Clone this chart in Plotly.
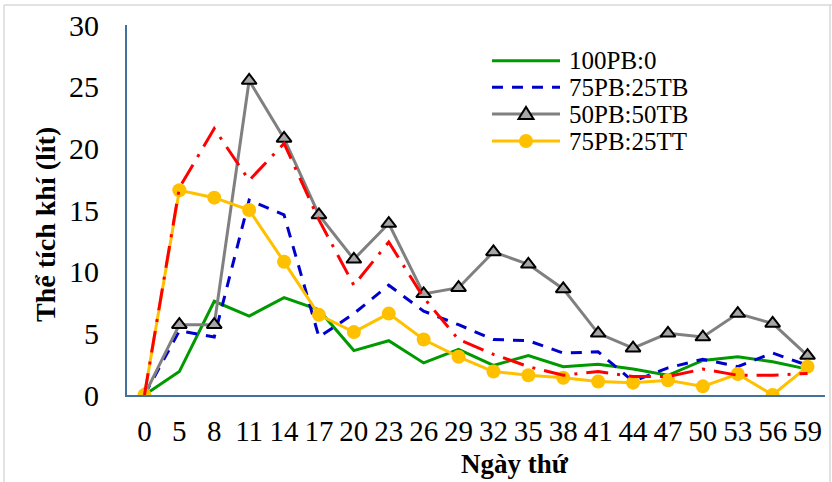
import plotly.graph_objects as go

# Sampling days (x categories)
days = ["0", "5", "8", "11", "14", "17", "20", "23", "26", "29",
        "32", "35", "38", "41", "44", "47", "50", "53", "56", "59"]

# Daily gas volume (litres) per mix
pb100 = [0, 1.9, 7.6, 6.4, 7.9, 6.9, 3.6, 4.4, 2.6, 3.7,
         2.4, 3.2, 2.3, 2.5, 2.1, 1.6, 2.8, 3.1, 2.7, 2.1]
pb75_tb25 = [0, 5.2, 4.7, 15.8, 14.6, 4.7, 6.6, 8.9, 6.8, 5.7,
             4.5, 4.4, 3.4, 3.5, 1.1, 2.2, 2.9, 2.3, 3.4, 2.4]
pb50_tb50 = [0, 5.7, 5.7, 25.5, 20.8, 14.6, 11.0, 13.9, 8.2, 8.7,
             11.6, 10.6, 8.6, 5.0, 3.8, 5.0, 4.7, 6.6, 5.8, 3.2]
pb75_tt25 = [0, 16.6, 16.0, 15.0, 10.8, 6.5, 5.1, 6.6, 4.5, 3.1,
             1.9, 1.6, 1.4, 1.1, 1.0, 1.2, 0.7, 1.7, 0.0, 2.3]
extra_series = [0, 16.8, 21.6, 17.4, 20.4, 14.2, 8.9, 12.4, 7.9, 4.5,
                3.3, 2.3, 1.6, 1.9, 1.5, 1.5, 2.1, 1.6, 1.6, 1.75]

legend_labels = ["100PB:0", "75PB:25TB", "50PB:50TB", "75PB:25TT"]
y_ticks = [0, 5, 10, 15, 20, 25, 30]

GREEN = "#009A00"
BLUE = "#0000CC"
GRAY = "#808080"
YELLOW = "#FFC000"
RED = "#FF0000"
AXIS = "#41719C"
SERIF = "Liberation Serif, Times New Roman, serif"

# Plot-area geometry in pixels (used for the hand-made legend)
W, H = 832, 482
L, R, T, B = 127, 825, 25, 395


def px(x):
    return (x - L) / (R - L)


def py(y):
    return (B - y) / (B - T)


fig = go.Figure()

fig.add_trace(go.Scatter(x=days, y=pb100, mode="lines", name=legend_labels[0],
                         line=dict(color=GREEN, width=3)))
fig.add_trace(go.Scatter(x=days, y=pb75_tb25, mode="lines", name=legend_labels[1],
                         line=dict(color=BLUE, width=3, dash="11px,9px")))
fig.add_trace(go.Scatter(x=days, y=pb50_tb50, mode="lines+markers", name=legend_labels[2],
                         line=dict(color=GRAY, width=3),
                         marker=dict(symbol="triangle-up", size=13, color="#A6A6A6",
                                     line=dict(color="black", width=2))))
fig.add_trace(go.Scatter(x=days, y=pb75_tt25, mode="lines+markers", name=legend_labels[3],
                         line=dict(color=YELLOW, width=3),
                         marker=dict(symbol="circle", size=14, color=YELLOW)))
fig.add_trace(go.Scatter(x=days, y=extra_series, mode="lines", showlegend=False,
                         line=dict(color=RED, width=3, dash="22px,9px,3px,9px")))

shapes = []
annotations = []

# Legend keys drawn as shapes + text
rows_y = [60.7, 87.3, 114, 141]
kx0, kx1, kxm = 492, 560, 526
tx = 567
key_styles = [
    dict(color=GREEN, width=3),
    dict(color=BLUE, width=3, dash="11px,9px"),
    dict(color=GRAY, width=3),
    dict(color=YELLOW, width=3),
]
for yy, ln, lab in zip(rows_y, key_styles, legend_labels):
    shapes.append(dict(type="line", xref="paper", yref="paper",
                       x0=px(kx0), x1=px(kx1), y0=py(yy), y1=py(yy), line=ln))
    annotations.append(dict(text=lab, xref="paper", yref="paper", x=px(tx), y=py(yy),
                            xanchor="left", yanchor="middle", showarrow=False,
                            font=dict(family=SERIF, size=25, color="black")))
# triangle key marker
ty = rows_y[2]
shapes.append(dict(type="path", xref="paper", yref="paper",
                   path="M {},{} L {},{} L {},{} Z".format(
                       px(kxm - 7.5), py(ty + 5), px(kxm + 7.5), py(ty + 5),
                       px(kxm), py(ty - 7)),
                   fillcolor="#A6A6A6", line=dict(color="black", width=2)))
# circle key marker
cy = rows_y[3]
shapes.append(dict(type="circle", xref="paper", yref="paper",
                   x0=px(kxm - 7), x1=px(kxm + 7), y0=py(cy + 7), y1=py(cy - 7),
                   fillcolor=YELLOW, line=dict(color=YELLOW, width=0)))

# light page frame
frame = dict(color="#D9D9D9", width=1.5)
shapes.append(dict(type="line", xref="paper", yref="paper",
                   x0=px(4), x1=px(4), y0=py(5), y1=py(490), line=frame))
shapes.append(dict(type="line", xref="paper", yref="paper",
                   x0=px(4), x1=px(835), y0=py(5), y1=py(5), line=frame))
shapes.append(dict(type="line", xref="paper", yref="paper",
                   x0=px(830), x1=px(830), y0=py(5), y1=py(490), line=frame))

# axis titles
annotations.append(dict(text="<b>Thể tích khí (lít)</b>", xref="paper", yref="paper",
                        x=px(45), y=py(225), textangle=-90, showarrow=False,
                        xanchor="center", yanchor="middle",
                        font=dict(family=SERIF, size=28, color="black")))
annotations.append(dict(text="<b>Ngày thứ</b>", xref="paper", yref="paper",
                        x=px(515), y=py(464), showarrow=False,
                        xanchor="center", yanchor="middle",
                        font=dict(family=SERIF, size=27, color="black")))

fig.update_layout(
    width=W, height=H,
    margin=dict(l=L, r=W - R, t=T, b=H - B, pad=0),
    paper_bgcolor="white", plot_bgcolor="white",
    showlegend=False,
    shapes=shapes, annotations=annotations,
    font=dict(family=SERIF, color="black"),
)
fig.update_xaxes(type="category", range=[-0.5, len(days) - 0.5],
                 tickmode="array", tickvals=days, ticktext=days,
                 showgrid=False, zeroline=False, showline=True,
                 linecolor=AXIS, linewidth=2, ticks="",
                 tickfont=dict(family=SERIF, size=29, color="black"),
                 ticklabelstandoff=9)
fig.update_yaxes(range=[0, 30], tickvals=y_ticks, showgrid=False, zeroline=False,
                 showline=True, linecolor=AXIS, linewidth=2, ticks="",
                 tickfont=dict(family=SERIF, size=30, color="black"),
                 ticklabelstandoff=20)

fig.write_html("out.html")
